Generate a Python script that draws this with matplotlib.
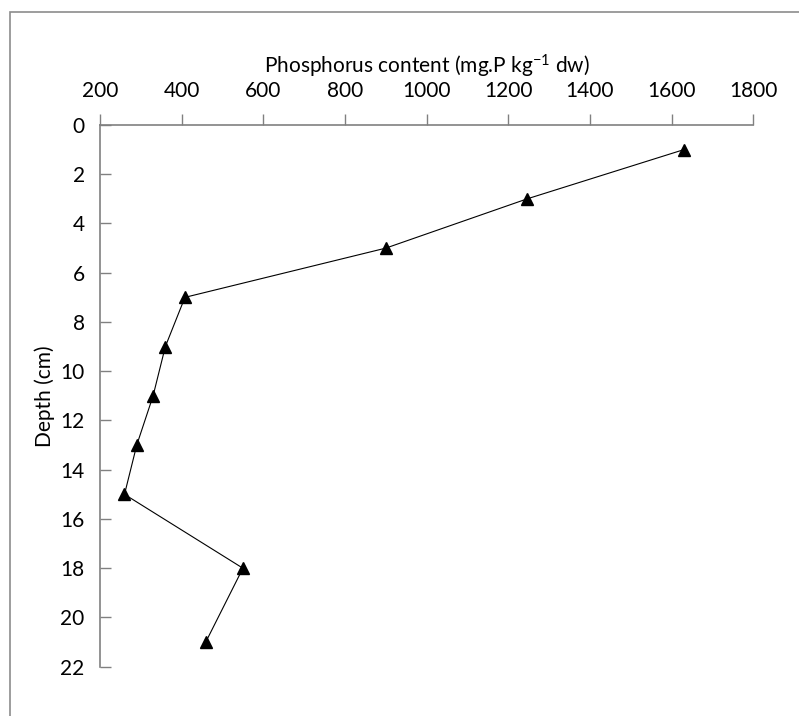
import matplotlib
matplotlib.use("Agg")
from matplotlib import pyplot as plt
from matplotlib.patches import Rectangle

# Data
depth = [1, 3, 5, 7, 9, 11, 13, 15, 18, 21]
phosphorus = [1630, 1246, 900, 408, 360, 330, 290, 260, 550, 459]

x_ticks = [200, 400, 600, 800, 1000, 1200, 1400, 1600, 1800]
y_ticks = [0, 2, 4, 6, 8, 10, 12, 14, 16, 18, 20, 22]

plt.rcParams['font.family'] = ['Lato', 'DejaVu Sans']
plt.rcParams['mathtext.fontset'] = 'custom'
plt.rcParams['mathtext.rm'] = 'Lato'
plt.rcParams['mathtext.it'] = 'Lato:italic'

W, H = 799, 716
fig = plt.figure(figsize=(W / 100, H / 100), dpi=100)
ax = fig.add_axes([100 / W, 1 - 666.7 / H, 653.3 / W, 541.7 / H])

# outer frame (runs off the right and bottom edges)
fig.patches.append(Rectangle((10 / W, -0.1), 1.2, 1 - 12 / H + 0.1,
                             transform=fig.transFigure, fill=False,
                             edgecolor='#8c8c8c', linewidth=1.2))

ax.plot(phosphorus, depth, color='black', linewidth=0.8,
        marker='^', markersize=9, markerfacecolor='black',
        markeredgecolor='black')

ax.set_xlim(200, 1800)
ax.set_ylim(22, 0)
ax.set_xticks(x_ticks)
ax.set_yticks(y_ticks)

ax.xaxis.set_ticks_position('top')
ax.xaxis.set_label_position('top')
ax.spines['bottom'].set_visible(False)
ax.spines['right'].set_visible(False)
for s in ('top', 'left'):
    ax.spines[s].set_color('#808080')
    ax.spines[s].set_linewidth(1.2)

fs = 15
ax.tick_params(axis='x', direction='out', length=8, width=1, color='#808080',
               labelsize=fs, pad=9)
ax.tick_params(axis='y', direction='in', length=8, width=1, color='#808080',
               labelsize=fs, pad=11)

ax.set_xlabel('Phosphorus content (mg.P kg$^{-1}$ dw)', fontsize=fs, labelpad=6)
ax.set_ylabel('Depth (cm)', fontsize=fs, labelpad=4)

fig.savefig('out.png', dpi=100)
